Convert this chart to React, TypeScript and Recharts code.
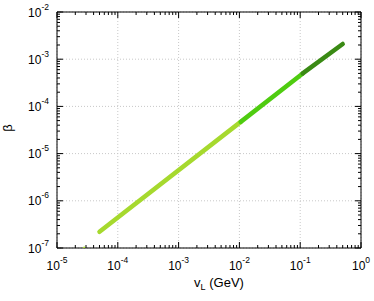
import React from 'react';
import { ComposedChart, Line, Scatter, XAxis, YAxis, CartesianGrid } from 'recharts';

// beta vs v_L, three colour bands along the same track
const SEG_LOW_VL = [5e-5, 0.0105];
const SEG_LOW_BETA = [2.2e-7, 4.7e-5];
const SEG_MID_VL = [0.0105, 0.11];
const SEG_MID_BETA = [4.7e-5, 5.0e-4];
const SEG_HIGH_VL = [0.11, 0.5];
const SEG_HIGH_BETA = [5.0e-4, 2.1e-3];
const STRAY_VL = [2.8e-5];
const STRAY_BETA = [1.0e-7];

const X_EXP = [-5, -4, -3, -2, -1, 0];
const Y_EXP = [-7, -6, -5, -4, -3, -2];

const FONT = '"Liberation Sans", Arial, sans-serif';

const pairs = (xs: number[], ys: number[]) => xs.map((vl, i) => ({ vl, beta: ys[i] }));

const withMinors = (exps: number[]) => {
  const out: number[] = [];
  exps.forEach((e, i) => {
    out.push(Math.pow(10, e));
    if (i < exps.length - 1) for (let m = 2; m <= 9; m++) out.push(m * Math.pow(10, e));
  });
  return out;
};

const X_TICKS = withMinors(X_EXP);
const Y_TICKS = withMinors(Y_EXP);
const X_MAJOR = X_EXP.map((e) => Math.pow(10, e));
const Y_MAJOR = Y_EXP.map((e) => Math.pow(10, e));

const expOf = (v: number) => Math.round(Math.log10(v));
const isMajor = (v: number) => Math.abs(Math.log10(v) - expOf(v)) < 1e-6;

const Pow10 = ({ x, y, anchor, v }: any) => (
  <text x={x} y={y} textAnchor={anchor} fontFamily={FONT} fontSize={12} fill="#000">
    10<tspan dy={-7} fontSize={8.5}>{expOf(v)}</tspan>
  </text>
);

const BottomTick = ({ x, y, payload }: any) => {
  const major = isMajor(payload.value);
  return (
    <g>
      <line x1={x} y1={y} x2={x} y2={y - (major ? 6 : 3)} stroke="#000" />
      {major && <Pow10 x={x} y={y + 22} anchor="middle" v={payload.value} />}
    </g>
  );
};

const TopTick = ({ x, y, payload }: any) => {
  const major = isMajor(payload.value);
  return <line x1={x} y1={y} x2={x} y2={y + (major ? 6 : 3)} stroke="#000" />;
};

const LeftTick = ({ x, y, payload }: any) => {
  const major = isMajor(payload.value);
  return (
    <g>
      <line x1={x} y1={y} x2={x + (major ? 6 : 3)} y2={y} stroke="#000" />
      {major && <Pow10 x={x - 8} y={y + 4.5} anchor="end" v={payload.value} />}
    </g>
  );
};

const RightTick = ({ x, y, payload }: any) => {
  const major = isMajor(payload.value);
  return <line x1={x} y1={y} x2={x - (major ? 6 : 3)} y2={y} stroke="#000" />;
};

export default function App() {
  const axisCommon = {
    type: 'number' as const,
    scale: 'log' as const,
    allowDataOverflow: true,
    tickLine: false,
    tickSize: 0,
    tickMargin: 0,
    interval: 0 as const,
    axisLine: { stroke: '#000', strokeWidth: 1 },
  };

  return (
    <div style={{ position: 'absolute', left: 0, top: 0 }}>
      <ComposedChart width={374} height={301} margin={{ top: 11, right: 12, bottom: 52, left: 56 }}>
        {/* hidden axes that only carry the decade ticks for the dotted grid */}
        <XAxis {...axisCommon} xAxisId="grid" hide dataKey="vl" domain={[1e-5, 1]} ticks={X_MAJOR} height={0} />
        <YAxis {...axisCommon} yAxisId="grid" hide dataKey="beta" domain={[1e-7, 1e-2]} ticks={Y_MAJOR} width={0} />
        <CartesianGrid xAxisId="grid" yAxisId="grid" stroke="#c8c8c8" strokeDasharray="1 2" />

        <XAxis {...axisCommon} dataKey="vl" domain={[1e-5, 1]} ticks={X_TICKS} height={1} tick={<BottomTick />} />
        <XAxis {...axisCommon} xAxisId="top" orientation="top" dataKey="vl" domain={[1e-5, 1]} ticks={X_TICKS} height={1} tick={<TopTick />} />
        <YAxis {...axisCommon} dataKey="beta" domain={[1e-7, 1e-2]} ticks={Y_TICKS} width={1} tick={<LeftTick />} />
        <YAxis {...axisCommon} yAxisId="right" orientation="right" dataKey="beta" domain={[1e-7, 1e-2]} ticks={Y_TICKS} width={1} tick={<RightTick />} />

        <Scatter data={pairs(STRAY_VL, STRAY_BETA)} dataKey="beta" fill="#a6d92e" shape={(p: any) => <circle cx={p.cx} cy={p.cy} r={1.5} fill="#a6d92e" />} isAnimationActive={false} />
        <Line data={pairs(SEG_LOW_VL, SEG_LOW_BETA)} dataKey="beta" stroke="#a6d92e" strokeWidth={4.5} strokeLinecap="round" dot={false} isAnimationActive={false} />
        <Line data={pairs(SEG_MID_VL, SEG_MID_BETA)} dataKey="beta" stroke="#4fcc10" strokeWidth={4.5} strokeLinecap="round" dot={false} isAnimationActive={false} />
        <Line data={pairs(SEG_HIGH_VL, SEG_HIGH_BETA)} dataKey="beta" stroke="#3a8a14" strokeWidth={4.5} strokeLinecap="round" dot={false} isAnimationActive={false} />

        <text x={12} y={128} transform="rotate(-90 12 128)" textAnchor="middle" fontFamily={FONT} fontSize={13} fill="#000">β</text>
        <text x={219} y={287} textAnchor="middle" fontFamily={FONT} fontSize={13} fill="#000">
          v<tspan dy={3} fontSize={9}>L</tspan><tspan dy={-3}> (GeV)</tspan>
        </text>
      </ComposedChart>
    </div>
  );
}
